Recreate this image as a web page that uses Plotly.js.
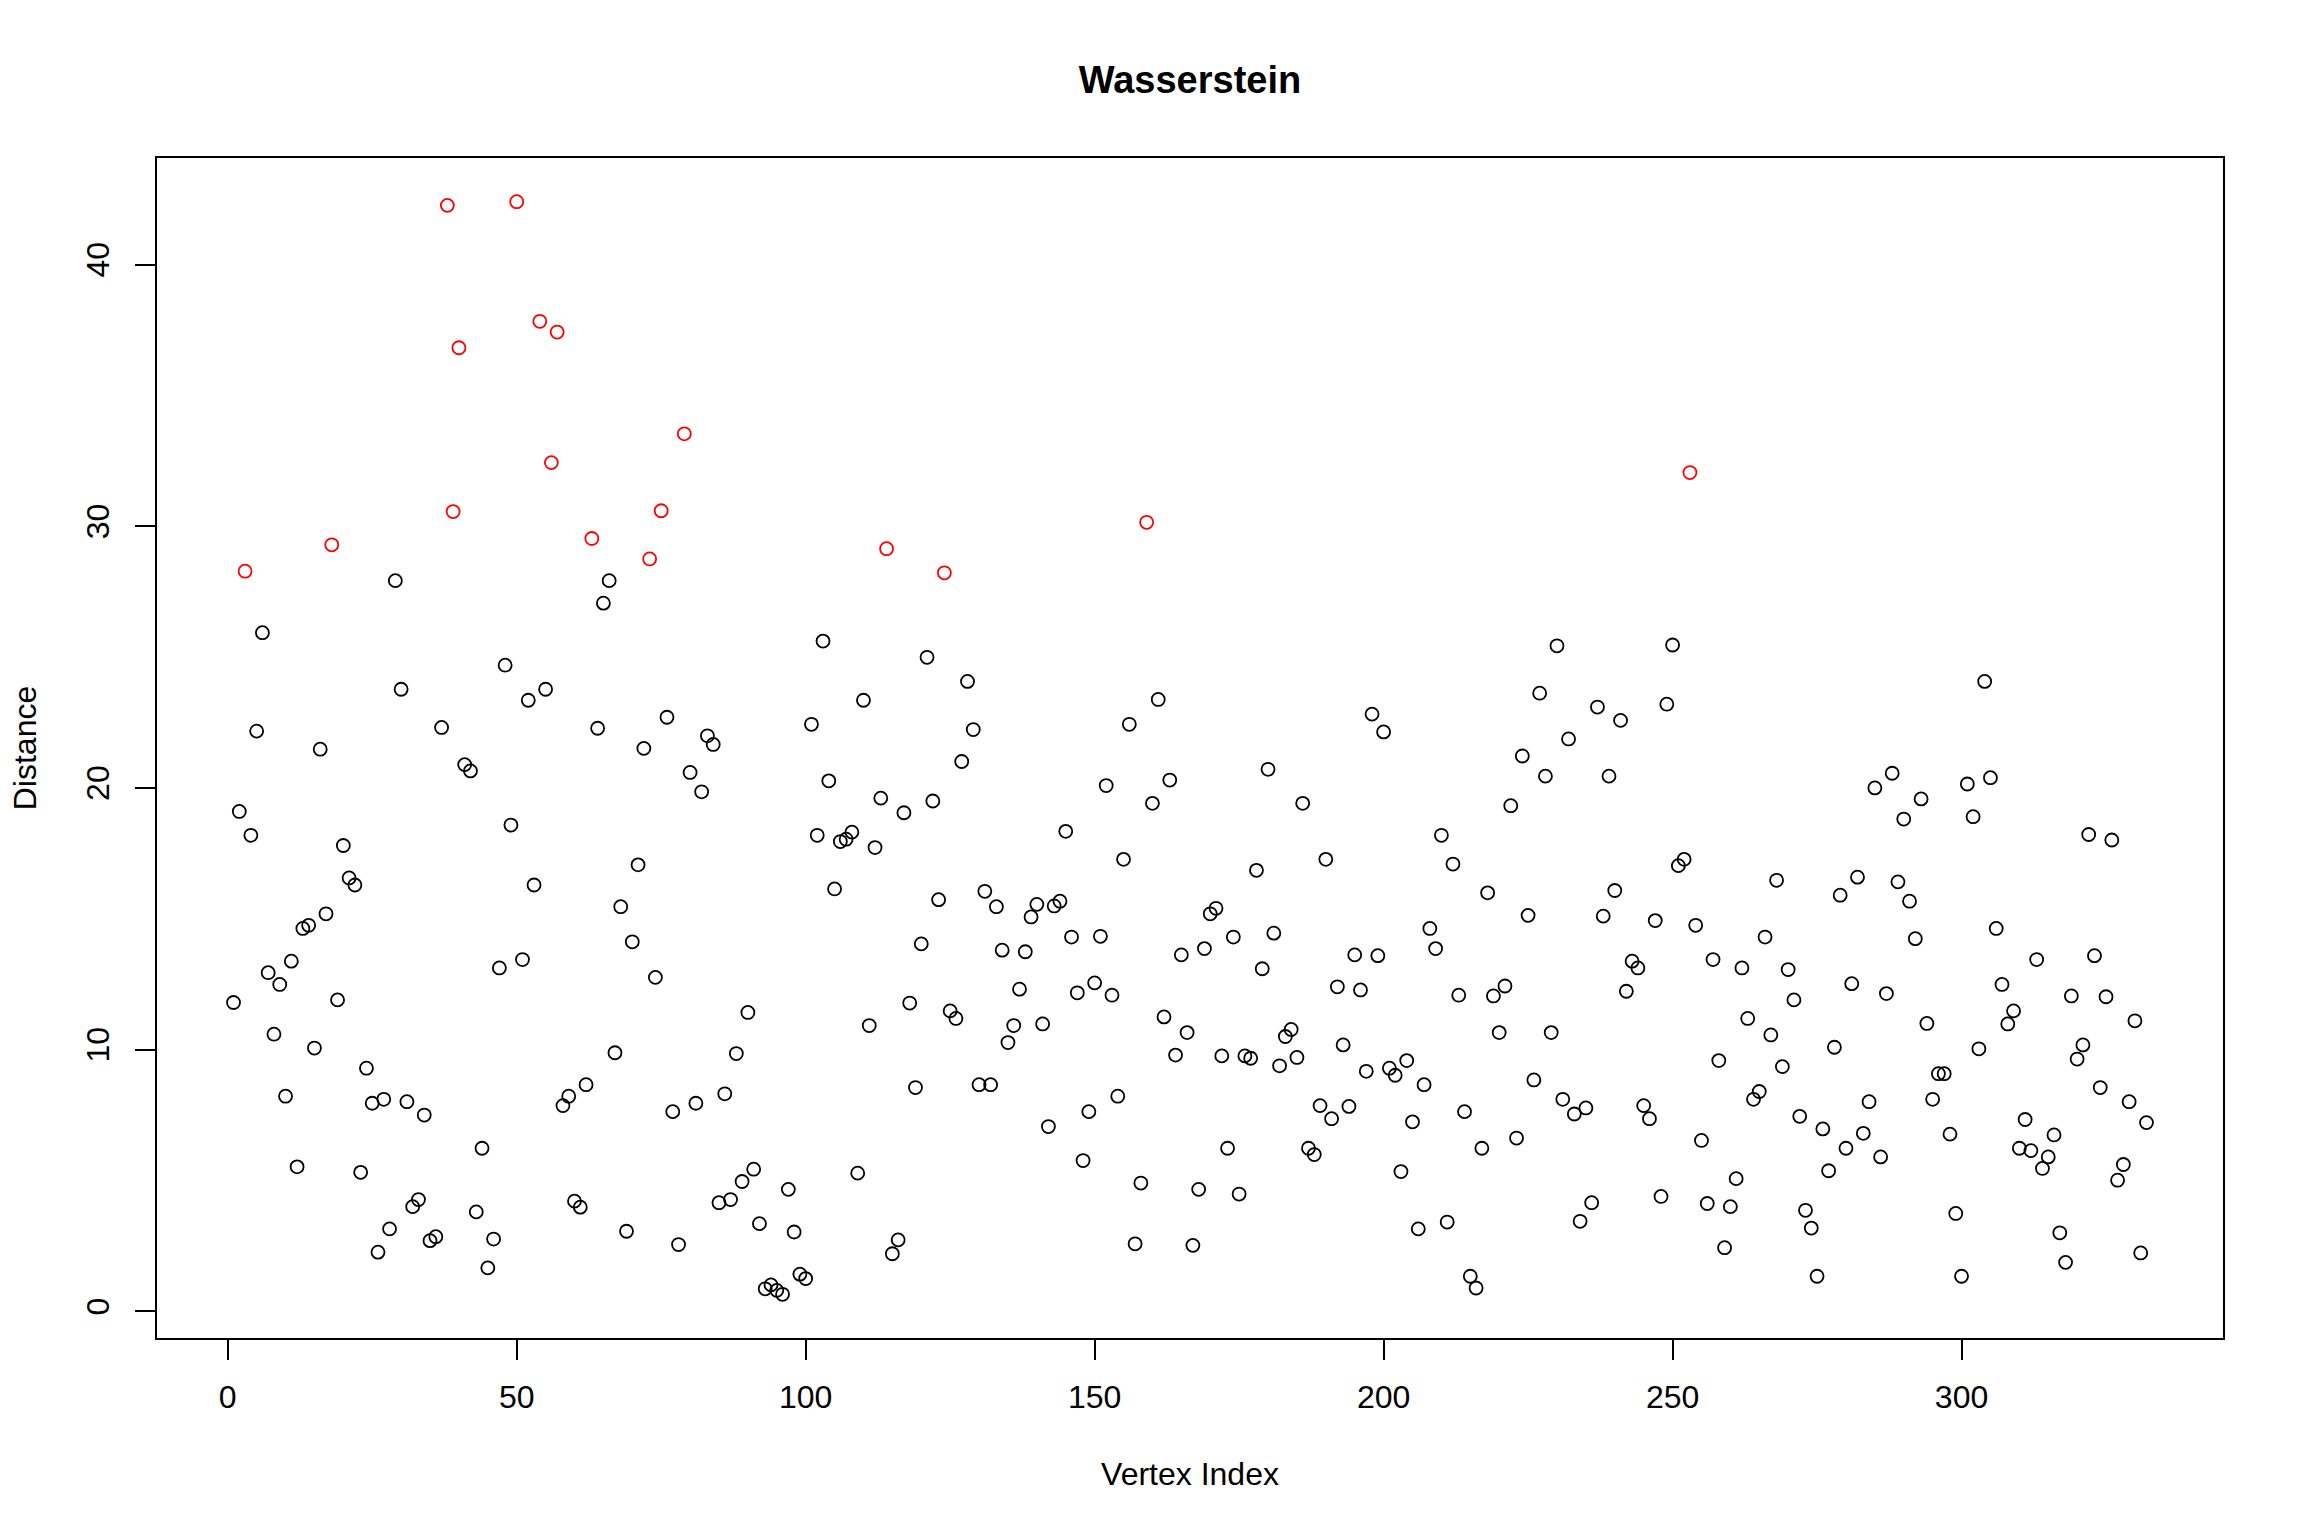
<!DOCTYPE html>
<html>
<head>
<meta charset="utf-8">
<script src="https://cdn.plot.ly/plotly-3.0.1.min.js"></script>
<style>html,body{margin:0;padding:0;background:#fff;}</style>
</head>
<body>
<div id="chart" style="width:2304px;height:1536px;"></div>
<script>
// Wasserstein distance per vertex (index 1..332)
const distance = [
11.8,19.1,28.28,18.19,22.17,25.93,12.94,10.59,12.49,8.22,
13.38,5.52,14.63,14.75,10.06,21.48,15.19,29.29,11.9,17.8,
16.56,16.29,5.31,9.29,7.95,2.26,8.1,3.15,27.92,23.77,
8.01,4.0,4.27,7.5,2.7,2.85,22.31,42.26,30.56,36.82,
20.89,20.65,3.8,6.23,1.66,2.76,13.12,24.69,18.58,42.4,
13.44,23.35,16.29,37.83,23.77,32.43,37.42,7.86,8.22,4.21,
3.98,8.66,29.53,22.28,27.06,27.92,9.88,15.46,3.06,14.12,
17.06,21.51,28.75,12.76,30.59,22.7,7.63,2.55,33.53,20.59,
7.95,19.85,21.99,21.66,4.15,8.31,4.27,9.85,4.96,11.42,
5.43,3.35,0.86,1.01,0.80,0.65,4.66,3.03,1.42,1.25,
22.43,18.19,25.61,20.27,16.14,17.95,18.04,18.31,5.28,23.35,
10.92,17.72,19.61,29.14,2.2,2.73,19.05,11.78,8.55,14.04,
24.99,19.5,15.73,28.22,11.48,11.19,21.01,24.07,22.23,8.66,
16.05,8.66,15.46,13.8,10.27,10.92,12.31,13.74,15.07,15.55,
10.98,7.06,15.49,15.67,18.34,14.3,12.17,5.76,7.63,12.55,
14.33,20.09,12.08,8.22,17.27,22.43,2.58,4.9,30.15,19.41,
23.38,11.25,20.3,9.79,13.62,10.65,2.52,4.66,13.86,15.19,
15.4,9.76,6.23,14.3,4.48,9.76,9.67,16.85,13.09,20.71,
14.45,9.38,10.5,10.77,9.7,19.41,6.23,5.99,7.86,17.27,
7.36,12.4,10.18,7.83,13.62,12.28,9.17,22.82,13.59,22.14,
9.29,9.02,5.34,9.58,7.24,3.15,8.66,14.63,13.86,18.19,
3.41,17.09,12.08,7.63,1.34,0.89,6.23,15.99,12.05,10.65,
12.43,19.32,6.62,21.22,15.13,8.84,23.62,20.45,10.65,25.43,
8.1,21.87,7.54,3.44,7.77,4.15,23.09,15.1,20.45,16.08,
22.58,12.23,13.38,13.12,7.86,7.36,14.93,4.39,23.2,25.46,
17.03,17.27,32.05,14.75,6.53,4.12,13.44,9.58,2.43,4.0,
5.07,13.12,11.19,8.1,8.4,14.3,10.56,16.47,9.35,13.06,
11.9,7.45,3.86,3.18,1.34,6.97,5.37,10.09,15.9,6.23,
12.52,16.59,6.8,8.01,20.0,5.9,12.14,20.56,16.41,18.81,
15.67,14.24,19.58,11.0,8.1,9.08,9.08,6.77,3.74,1.34,
20.15,18.9,10.03,24.07,20.39,14.63,12.49,10.98,11.48,6.23,
7.33,6.14,13.44,5.46,5.9,6.74,3.0,1.87,12.05,9.64,
10.18,18.22,13.59,8.55,12.02,18.01,5.01,5.61,8.01,11.1,
2.23,7.21
];
const outlierThreshold = 28;
const xTickVals = [0, 50, 100, 150, 200, 250, 300];
const yTickVals = [0, 10, 20, 30, 40];

const vertexIndex = distance.map((_, i) => i + 1);
const colors = distance.map(v => v > outlierThreshold ? '#FF0000' : '#000000');

// R-style 4% axis padding
function rRange(arr) {
  const mn = Math.min(...arr), mx = Math.max(...arr);
  const pad = (mx - mn) * 0.04;
  return [mn - pad, mx + pad];
}

const FONT = '"Liberation Sans", Arial, sans-serif';

const trace = {
  type: 'scatter',
  mode: 'markers',
  x: vertexIndex,
  y: distance,
  marker: {
    symbol: 'circle-open',
    size: 13,
    color: colors,
    line: { width: 1.8 }
  },
  hoverinfo: 'x+y'
};

const axisCommon = {
  showgrid: false,
  zeroline: false,
  showline: true,
  mirror: true,
  linecolor: '#000',
  linewidth: 2,
  ticks: 'outside',
  ticklen: 20,
  tickwidth: 2,
  tickcolor: '#000',
  tickfont: { family: FONT, size: 32, color: '#000' }
};

const layout = {
  width: 2304,
  height: 1536,
  paper_bgcolor: '#fff',
  plot_bgcolor: '#fff',
  showlegend: false,
  margin: { l: 157, r: 81, t: 158, b: 198, pad: 0 },
  title: {
    text: '<b>Wasserstein</b>',
    font: { family: FONT, size: 38, color: '#000' },
    x: 0.5, xref: 'paper', xanchor: 'center',
    y: 1 - 80 / 1536, yref: 'container', yanchor: 'middle'
  },
  xaxis: Object.assign({}, axisCommon, {
    range: rRange(vertexIndex),
    tickvals: xTickVals,
    ticktext: xTickVals.map(String),
    ticklabelstandoff: 10,
    title: { text: 'Vertex Index', font: { family: FONT, size: 32, color: '#000' }, standoff: 48 }
  }),
  yaxis: Object.assign({}, axisCommon, {
    range: rRange(distance),
    tickvals: yTickVals,
    ticktext: yTickVals.map(String),
    tickangle: -90,
    ticklabelstandoff: 13,
    title: { text: 'Distance', font: { family: FONT, size: 32, color: '#000' }, standoff: 34 }
  })
};

Plotly.newPlot('chart', [trace], layout, { displayModeBar: false, staticPlot: true });
</script>
</body>
</html>
